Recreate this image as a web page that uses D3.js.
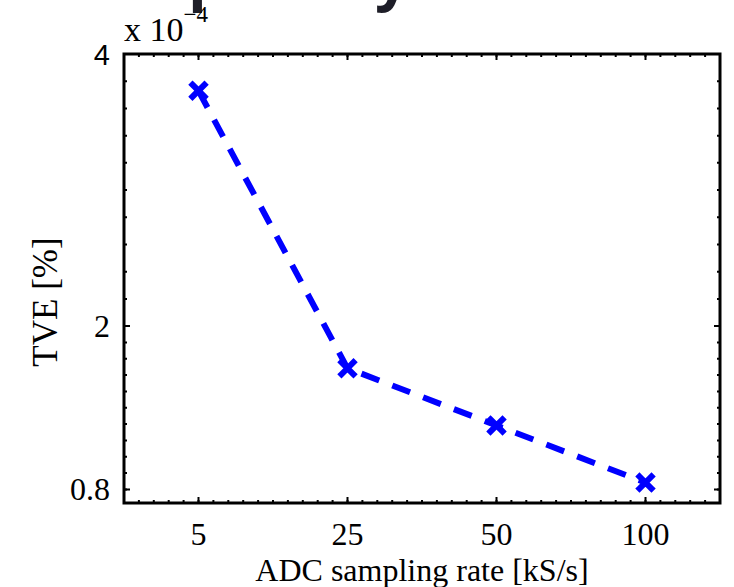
<!DOCTYPE html>
<html>
<head>
<meta charset="utf-8">
<script src="https://cdn.jsdelivr.net/npm/d3@7"></script>
<style>
  html, body { margin: 0; padding: 0; background: #fff; }
  svg { display: block; }
  .serif { font-family: "Liberation Serif", "Times New Roman", serif; }
</style>
</head>
<body>
<svg id="chart" width="734" height="587"></svg>
<script>
// chart values (TVE in units of 1e-4 %)
const rates = ["5", "25", "50", "100"];
const tve = [3.73, 1.69, 1.27, 0.85];
const yTicks = [0.8, 2, 4];
const titleText = "TVE dependency";

const svg = d3.select("#chart");
const plotL = 124, plotR = 720, plotT = 54, plotB = 503;

const x = d3.scaleLinear().domain([0.5, 4.5]).range([plotL, plotR]);
const y = d3.scaleLinear().domain([0.7, 4]).range([plotB, plotT]);

// clipped title, only descenders show at the very top
svg.append("text")
  .attr("x", 52).attr("y", -1)
  .attr("font-family", "'Noto Sans', sans-serif")
  .attr("font-weight", "bold")
  .attr("font-size", 60)
  .attr("letter-spacing", -10)
  .attr("fill", "#1e1e28")
  .text(titleText);

// minor ticks: ten per interval between the major ones
const xMinor = d3.range(5, 46).map(d => d / 10);
const yMinor = [];
for (let i = 0; i < yTicks.length - 1; i++) {
  const a = yTicks[i], b = yTicks[i + 1];
  for (let k = 0; k < 10; k++) yMinor.push(a + (b - a) * k / 10);
}
yMinor.push(4);

const g = svg.append("g");

// minor ticks on all four sides
g.selectAll(".xm").data(xMinor).join("path")
  .attr("d", d => `M${x(d)},${plotB}v-3M${x(d)},${plotT}v3`)
  .attr("stroke", "#000").attr("stroke-width", 2);
g.selectAll(".ym").data(yMinor).join("path")
  .attr("d", d => `M${plotL},${y(d)}h3M${plotR},${y(d)}h-3`)
  .attr("stroke", "#000").attr("stroke-width", 2);

// major ticks
g.selectAll(".xM").data([1, 2, 3, 4]).join("path")
  .attr("d", d => `M${x(d)},${plotB}v-6M${x(d)},${plotT}v6`)
  .attr("stroke", "#000").attr("stroke-width", 2);
g.selectAll(".yM").data(yTicks).join("path")
  .attr("d", d => `M${plotL},${y(d)}h6M${plotR},${y(d)}h-6`)
  .attr("stroke", "#000").attr("stroke-width", 2);

// frame
g.append("rect")
  .attr("x", plotL).attr("y", plotT)
  .attr("width", plotR - plotL).attr("height", plotB - plotT)
  .attr("fill", "none").attr("stroke", "#000").attr("stroke-width", 3);

// x tick labels
svg.selectAll(".xl").data(rates).join("text")
  .attr("class", "serif")
  .attr("x", (d, i) => x(i + 1))
  .attr("y", 545)
  .attr("text-anchor", "middle")
  .attr("font-size", 32)
  .text(d => d);

// y tick labels (the top one is in a sans face)
svg.selectAll(".yl").data(yTicks).join("text")
  .attr("class", d => d === 4 ? null : "serif")
  .attr("font-family", d => d === 4 ? "'Liberation Sans', Arial, sans-serif" : null)
  .attr("x", 110)
  .attr("y", d => y(d) + 11)
  .attr("text-anchor", "end")
  .attr("font-size", d => d === 4 ? 29 : 32)
  .text(d => d);

// exponent
const ex = svg.append("text").attr("class", "serif").attr("x", 124).attr("y", 41).attr("font-size", 34);
ex.append("tspan").text("x 10");
ex.append("tspan").attr("dy", -19).attr("font-size", 23).text("\u22124");

// axis labels
svg.append("text").attr("class", "serif")
  .attr("x", 422).attr("y", 581)
  .attr("text-anchor", "middle")
  .attr("font-size", 32)
  .text("ADC sampling rate [kS/s]");

svg.append("text").attr("class", "serif")
  .attr("transform", "translate(57,302) rotate(-90)")
  .attr("text-anchor", "middle")
  .attr("font-size", 35)
  .text("TVE [%]");

// dashed series
const line = d3.line().x((d, i) => x(i + 1)).y(d => y(d));
svg.append("path")
  .datum(tve)
  .attr("d", line)
  .attr("fill", "none")
  .attr("stroke", "#0000ff")
  .attr("stroke-width", 6)
  .attr("stroke-dasharray", "19,14");

// x markers
const m = 6;
svg.selectAll(".mk").data(tve).join("path")
  .attr("d", (d, i) => {
    const cx = x(i + 1), cy = y(d);
    return `M${cx - m},${cy - m}L${cx + m},${cy + m}M${cx - m},${cy + m}L${cx + m},${cy - m}`;
  })
  .attr("stroke", "#0000ff")
  .attr("stroke-width", 6)
  .attr("stroke-linecap", "square")
  .attr("fill", "none");
</script>
</body>
</html>
